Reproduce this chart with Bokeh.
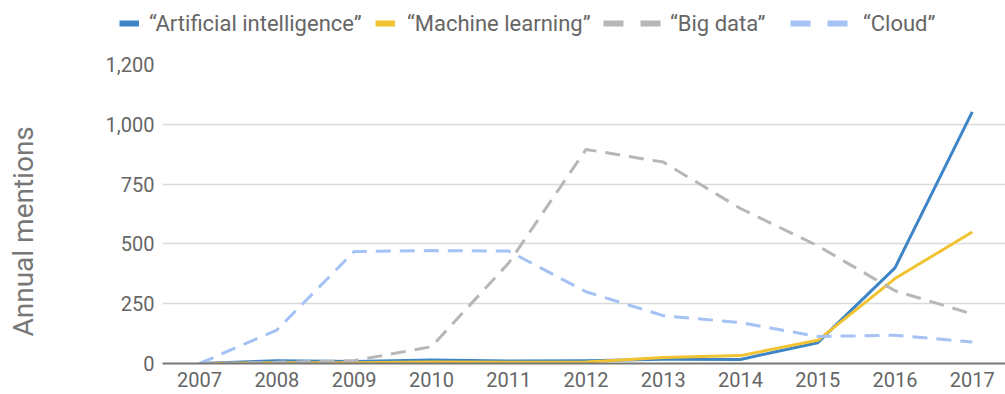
from bokeh.plotting import figure
from bokeh.layouts import column, row
from bokeh.models import (Range1d, FixedTicker, NumeralTickFormatter, Legend, LegendItem)
from bokeh.embed import file_html
from bokeh.resources import INLINE

years = [2007, 2008, 2009, 2010, 2011, 2012, 2013, 2014, 2015, 2016, 2017]
ai = [0, 12, 8, 15, 10, 12, 18, 17, 87, 400, 1052]
ml = [0, 3, 3, 6, 5, 6, 25, 33, 97, 355, 550]
bigdata = [0, 5, 12, 70, 420, 895, 842, 648, 492, 304, 207]
cloud = [0, 140, 468, 472, 470, 300, 200, 171, 113, 118, 90]

series_labels = ["\u201cArtificial intelligence\u201d", "\u201cMachine learning\u201d",
                 "\u201cBig data\u201d", "\u201cCloud\u201d"]
y_ticks = [0, 250, 500, 750, 1000, 1250]
y_top_label = "1,200"
y_title = "Annual mentions"

FONT = "Roboto"
TXT = "#666666"
c_ai, c_ml, c_bd, c_cl = "#3d85c6", "#f1c232", "#b7b7b7", "#a4c2f4"

# ---------------- main chart ----------------
p = figure(width=1005, height=346, output_backend="svg", toolbar_location=None,
           x_range=Range1d(2006.52, 2017.43), y_range=Range1d(0, 1250),
           min_border_left=162, min_border_right=0, min_border_top=16, min_border_bottom=31)
p.outline_line_color = None
p.background_fill_color = "white"
p.border_fill_color = "white"

p.xgrid.grid_line_color = None
p.ygrid.grid_line_color = "#dadada"
p.ygrid.grid_line_width = 1.5

xa = p.xaxis[0]
xa.ticker = FixedTicker(ticks=years)
xa.major_label_overrides = {y: str(y) for y in years}
xa.major_tick_line_color = None
xa.minor_tick_line_color = None
xa.axis_line_color = "#777777"
xa.axis_line_width = 2
xa.major_label_standoff = 2
xa.major_label_text_font = FONT
xa.major_label_text_font_size = "20px"
xa.major_label_text_color = TXT

ya = p.yaxis[0]
ya.ticker = FixedTicker(ticks=y_ticks)
ya.formatter = NumeralTickFormatter(format="0,0")
ya.major_label_overrides = {1250: y_top_label}
ya.major_tick_line_color = None
ya.minor_tick_line_color = None
ya.axis_line_color = None
ya.major_label_standoff = 2
ya.major_label_text_font = FONT
ya.major_label_text_font_size = "20px"
ya.major_label_text_color = TXT
ya.axis_label = y_title + "\u00a0" * 5
ya.axis_label_standoff = 63
ya.axis_label_text_font = FONT
ya.axis_label_text_font_size = "28px"
ya.axis_label_text_font_style = "normal"
ya.axis_label_text_color = "#777777"

p.line(years, ai, line_color=c_ai, line_width=3, line_join="round")
p.line(years, ml, line_color=c_ml, line_width=3, line_join="round")
p.line(years, bigdata, line_color=c_bd, line_width=3, line_dash="15 9")
p.line(years, cloud, line_color=c_cl, line_width=3, line_dash="15 9")

# ---------------- legend strip ----------------
leg = figure(width=1005, height=48, output_backend="svg", toolbar_location=None,
             x_range=Range1d(0, 1005), y_range=Range1d(0, 48),
             x_axis_location=None, y_axis_location=None,
             min_border_left=0, min_border_right=0, min_border_top=0, min_border_bottom=0)
leg.outline_line_color = None
leg.grid.visible = False
leg.background_fill_color = "white"
leg.border_fill_color = "white"

nan = float("nan")
s_ai = leg.line(x=[nan], y=[nan], line_color=c_ai, line_width=6)
s_ml = leg.line(x=[nan], y=[nan], line_color=c_ml, line_width=6)
s_bd = leg.line(x=[nan], y=[nan], line_color=c_bd, line_width=6, line_dash="20 17")
s_cl = leg.line(x=[nan], y=[nan], line_color=c_cl, line_width=6, line_dash="20 17")

def add_legend(label, rend, x, gw, standoff):
    lg = Legend(items=[LegendItem(label=label, renderers=[rend])], location=(x, 12),
                orientation="horizontal", glyph_width=gw, glyph_height=26, label_height=26,
                label_standoff=standoff, padding=0, margin=0, spacing=0,
                border_line_alpha=0, background_fill_alpha=0,
                label_text_font=FONT, label_text_font_size="22px", label_text_color=TXT)
    leg.add_layout(lg, "center")

add_legend(series_labels[0], s_ai, 119, 20, 10)
add_legend(series_labels[1], s_ml, 375, 20, 12)
add_legend(series_labels[2], s_bd, 603, 60, 7)
add_legend(series_labels[3], s_cl, 790, 60, 13)

layout = column(row(leg), row(p), spacing=0)
open("out.html", "w").write(file_html(layout, INLINE))
